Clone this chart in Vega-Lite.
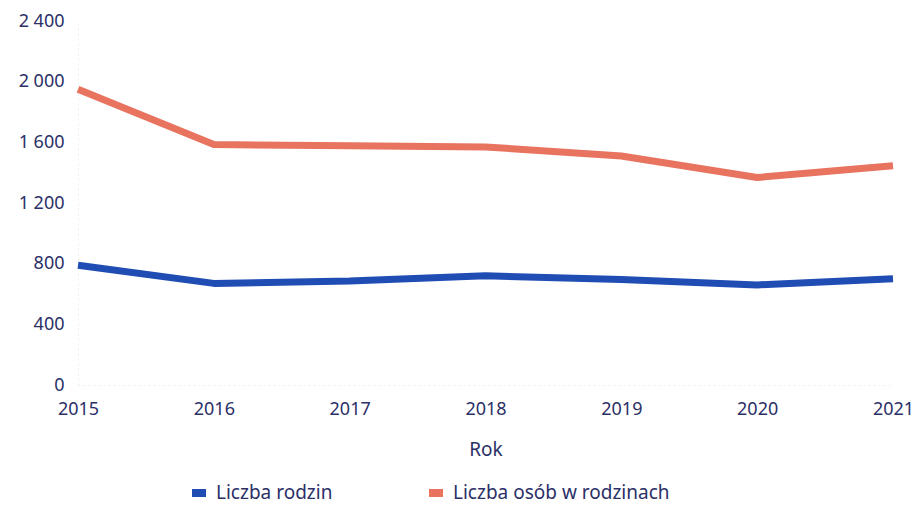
{
  "$schema": "https://vega.github.io/schema/vega-lite/v6.json",
  "autosize": "none",
  "width": 815,
  "height": 364,
  "padding": {"left": 78, "top": 21, "right": 21, "bottom": 122},
  "background": "white",
  "config": {
    "view": {"stroke": null},
    "font": "Noto Sans",
    "axis": {"labelColor": "#2b3067", "titleColor": "#2b3067", "labelFont": "Noto Sans", "titleFont": "Noto Sans"},
    "legend": {"labelColor": "#2b3067", "labelFont": "Noto Sans"}
  },
  "data": {
    "values": [
      {"rok": 2015, "seria": "Liczba rodzin", "wartosc": 790},
      {"rok": 2016, "seria": "Liczba rodzin", "wartosc": 670},
      {"rok": 2017, "seria": "Liczba rodzin", "wartosc": 685},
      {"rok": 2018, "seria": "Liczba rodzin", "wartosc": 720},
      {"rok": 2019, "seria": "Liczba rodzin", "wartosc": 695},
      {"rok": 2020, "seria": "Liczba rodzin", "wartosc": 660},
      {"rok": 2021, "seria": "Liczba rodzin", "wartosc": 700},
      {"rok": 2015, "seria": "Liczba osób w rodzinach", "wartosc": 1950},
      {"rok": 2016, "seria": "Liczba osób w rodzinach", "wartosc": 1585},
      {"rok": 2017, "seria": "Liczba osób w rodzinach", "wartosc": 1578},
      {"rok": 2018, "seria": "Liczba osób w rodzinach", "wartosc": 1570},
      {"rok": 2019, "seria": "Liczba osób w rodzinach", "wartosc": 1510},
      {"rok": 2020, "seria": "Liczba osób w rodzinach", "wartosc": 1368},
      {"rok": 2021, "seria": "Liczba osób w rodzinach", "wartosc": 1445}
    ]
  },
  "mark": {"type": "line", "strokeWidth": 7, "strokeCap": "butt", "strokeJoin": "round"},
  "encoding": {
    "x": {
      "field": "rok",
      "type": "ordinal",
      "scale": {"type": "point", "padding": 0},
      "axis": {
        "title": "Rok",
        "labelAngle": 0,
        "labelFontSize": 18,
        "labelPadding": 15,
        "ticks": false,
        "domain": true,
        "domainColor": "#eeeeee",
        "domainDash": [2, 3],
        "titleFontSize": 19,
        "titleFontWeight": "normal",
        "titlePadding": 22,
        "grid": false
      }
    },
    "y": {
      "field": "wartosc",
      "type": "quantitative",
      "scale": {"domain": [0, 2400], "nice": false},
      "axis": {
        "title": null,
        "values": [0, 400, 800, 1200, 1600, 2000, 2400],
        "labelExpr": "replace(format(datum.value, ','), ',', ' ')",
        "labelFontSize": 18,
        "labelPadding": 14,
        "ticks": false,
        "domain": true,
        "domainColor": "#eeeeee",
        "domainDash": [2, 3],
        "grid": false
      }
    },
    "color": {
      "field": "seria",
      "type": "nominal",
      "sort": ["Liczba rodzin", "Liczba osób w rodzinach"],
      "scale": {"domain": ["Liczba rodzin", "Liczba osób w rodzinach"], "range": ["#1f4db3", "#e8735f"]},
      "legend": {
        "title": null,
        "orient": "none",
        "direction": "horizontal",
        "legendX": 110,
        "legendY": 461,
        "symbolType": "stroke",
        "symbolSize": 196,
        "symbolStrokeWidth": 8,
        "labelFontSize": 19,
        "labelLimit": 0,
        "columnPadding": 80,
        "labelOffset": 6
      }
    }
  }
}
